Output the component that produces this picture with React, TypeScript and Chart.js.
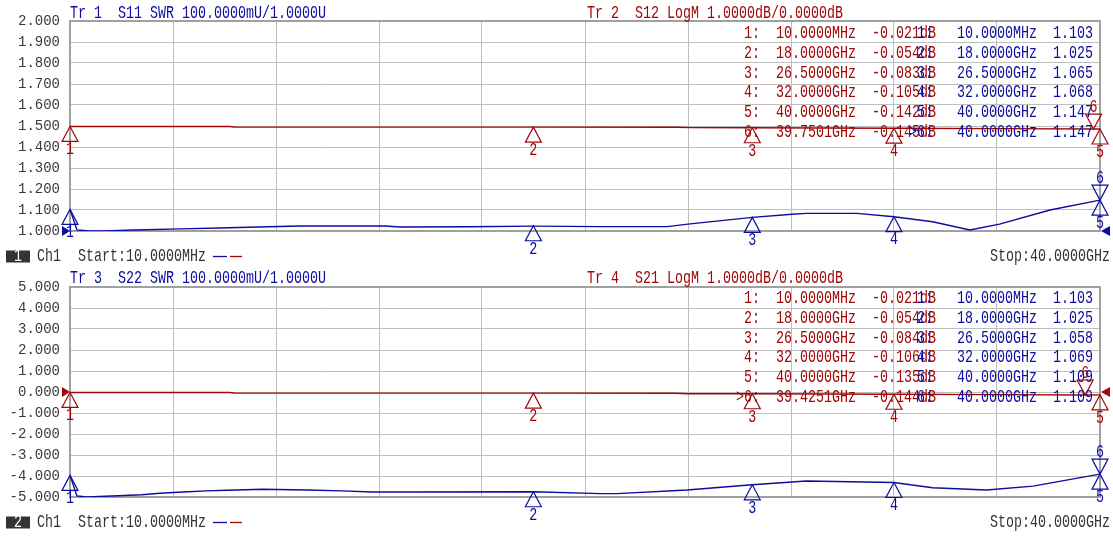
import { useEffect, useRef } from 'react';
import { Chart, registerables } from 'chart.js';

Chart.register(...registerables);

// ---------------- data ----------------
const START_GHZ = 0.01;
const STOP_GHZ = 40;

// Tr 1  S11 SWR
const s11Freq = [0.01, 0.28, 0.79, 1.37, 2.5, 4.28, 5.83, 7.3, 8.94, 10.88, 12.24, 12.82, 15.5, 18.0, 20.6, 23.2, 24.0, 26.5, 28.04, 28.6, 30.56, 32.0, 33.5, 34.95, 36.1, 38.06, 40.0];
const s11Swr = [1.103, 1.005, 1.0, 1.0, 1.005, 1.01, 1.014, 1.019, 1.024, 1.024, 1.024, 1.019, 1.02, 1.023, 1.021, 1.021, 1.033, 1.065, 1.08, 1.084, 1.084, 1.068, 1.044, 1.005, 1.033, 1.1, 1.147];

// Tr 2  S12 LogM (dB)
const s12Freq = [0.01, 6.2, 6.4, 18.0, 23.5, 24.2, 26.5, 32.0, 36.0, 39.7501, 40.0];
const s12Db = [-0.021, -0.025, -0.045, -0.054, -0.06, -0.075, -0.083, -0.105, -0.125, -0.145, -0.142];

// Tr 3  S22 SWR
const s22Freq = [0.01, 0.28, 0.67, 1.64, 2.8, 3.5, 4.4, 5.3, 6.1, 7.5, 9.2, 10.57, 11.73, 12.8, 18.0, 20.6, 21.25, 23.96, 26.5, 28.6, 32.0, 33.5, 35.6, 37.4, 40.0];
const s22Swr = [1.103, 1.005, 1.0, 1.005, 1.011, 1.018, 1.024, 1.029, 1.032, 1.037, 1.033, 1.029, 1.024, 1.024, 1.025, 1.016, 1.016, 1.033, 1.058, 1.076, 1.069, 1.044, 1.033, 1.052, 1.109];

// Tr 4  S21 LogM (dB)
const s21Freq = [0.01, 6.2, 6.4, 18.0, 23.5, 24.0, 26.5, 32.0, 36.0, 39.4251, 40.0];
const s21Db = [-0.021, -0.025, -0.045, -0.054, -0.06, -0.08, -0.084, -0.106, -0.125, -0.144, -0.135];

// markers
const tr1MarkerFreq = [0.01, 18, 26.5, 32, 40, 40];
const tr1MarkerVal = [1.103, 1.025, 1.065, 1.068, 1.147, 1.147];
const tr2MarkerFreq = [0.01, 18, 26.5, 32, 40, 39.7501];
const tr2MarkerVal = [-0.021, -0.054, -0.083, -0.105, -0.142, -0.145];
const tr3MarkerFreq = [0.01, 18, 26.5, 32, 40, 40];
const tr3MarkerVal = [1.103, 1.025, 1.058, 1.069, 1.109, 1.109];
const tr4MarkerFreq = [0.01, 18, 26.5, 32, 40, 39.4251];
const tr4MarkerVal = [-0.021, -0.054, -0.084, -0.106, -0.135, -0.144];

const swrAxis = { min: 1, max: 2, step: 0.1 };
const dbAxis = { min: -5, max: 5, step: 1 };

// ---------------- styles ----------------
const BLUE = '#0c0ca0';
const RED = '#a00808';
const GRID = '#bebebe';
const FRAME = '#a0a0a0';
const TEXT = '#333333';
const CW = 8; // character cell width
const FONT_PX = 18;

function fmtFreq(f: number) {
  return f < 1 ? (f * 1000).toFixed(4) + 'MHz' : f.toFixed(4) + 'GHz';
}

function txt(ctx: CanvasRenderingContext2D, s: string, x: number, y: number, color: string, align: 'left' | 'center' | 'right' = 'left') {
  ctx.save();
  ctx.font = `${FONT_PX}px "Liberation Mono", "DejaVu Sans Mono", monospace`;
  ctx.textBaseline = 'middle';
  ctx.textAlign = 'left';
  ctx.fillStyle = color;
  const raw = ctx.measureText(s).width || 1;
  const sx = (CW * s.length) / raw;
  const w = CW * s.length;
  const x0 = align === 'left' ? x : align === 'center' ? x - w / 2 : x - w;
  ctx.translate(x0, y);
  ctx.scale(sx, 1);
  ctx.fillText(s, 0, 0);
  ctx.restore();
}

function tri(ctx: CanvasRenderingContext2D, x: number, y: number, color: string, down: boolean, label: string) {
  ctx.save();
  ctx.strokeStyle = color;
  ctx.lineWidth = 1.2;
  ctx.beginPath();
  const d = down ? -15 : 15;
  ctx.moveTo(x, y);
  ctx.lineTo(x - 8, y + d);
  ctx.lineTo(x + 8, y + d);
  ctx.closePath();
  ctx.stroke();
  ctx.restore();
  txt(ctx, label, x, down ? y - 22 : y + 23, color, 'center');
}

type Panel = {
  height: number;
  top: number;
  chartTop: number;
  chartBottom: number;
  chNum: string;
  titleBlue: string;
  titleRed: string;
  blueIsPrimary: boolean;
  blueF: number[]; blueV: number[];
  redF: number[]; redV: number[];
  blueMF: number[]; blueMV: number[];
  redMF: number[]; redMV: number[];
  activeBlue: boolean;
  footY: number;
};

const panels: Panel[] = [
  {
    height: 265, top: 0, chartTop: 21, chartBottom: 231, chNum: '1',
    titleBlue: 'Tr 1  S11 SWR 100.0000mU/1.0000U',
    titleRed: 'Tr 2  S12 LogM 1.0000dB/0.0000dB',
    blueIsPrimary: true,
    blueF: s11Freq, blueV: s11Swr, redF: s12Freq, redV: s12Db,
    blueMF: tr1MarkerFreq, blueMV: tr1MarkerVal, redMF: tr2MarkerFreq, redMV: tr2MarkerVal,
    activeBlue: true, footY: 256.5,
  },
  {
    height: 275, top: 265, chartTop: 22, chartBottom: 232, chNum: '2',
    titleBlue: 'Tr 3  S22 SWR 100.0000mU/1.0000U',
    titleRed: 'Tr 4  S21 LogM 1.0000dB/0.0000dB',
    blueIsPrimary: false,
    blueF: s22Freq, blueV: s22Swr, redF: s21Freq, redV: s21Db,
    blueMF: tr3MarkerFreq, blueMV: tr3MarkerVal, redMF: tr4MarkerFreq, redMV: tr4MarkerVal,
    activeBlue: false, footY: 257.5,
  },
];

function makeChart(canvas: HTMLCanvasElement, p: Panel) {
  const blueAxis = p.blueIsPrimary ? 'y' : 'y2';
  const redAxis = p.blueIsPrimary ? 'y2' : 'y';
  const prim = p.blueIsPrimary ? swrAxis : dbAxis;
  const sec = p.blueIsPrimary ? dbAxis : swrAxis;

  const overlay = {
    id: 'vnaOverlay',
    beforeDatasetsDraw(chart: any) {
      const { ctx, chartArea: a } = chart;
      ctx.save();
      ctx.strokeStyle = FRAME;
      ctx.lineWidth = 2;
      ctx.strokeRect(a.left, a.top, a.right - a.left, a.bottom - a.top);
      ctx.restore();
    },
    afterDraw(chart: any) {
      const ctx: CanvasRenderingContext2D = chart.ctx;
      const a = chart.chartArea;
      const xs = chart.scales.x;
      const yb = chart.scales[blueAxis];
      const yr = chart.scales[redAxis];

      // titles
      txt(ctx, p.titleBlue, 70, 13.5, BLUE);
      txt(ctx, p.titleRed, 587, 13.5, RED);

      // reference-level indicators
      const refColor = p.blueIsPrimary ? BLUE : RED;
      const refY = p.blueIsPrimary ? yb.getPixelForValue(swrAxis.min) : yr.getPixelForValue(0);
      ctx.save();
      ctx.fillStyle = refColor;
      ctx.beginPath();
      ctx.moveTo(a.left - 8, refY - 5);
      ctx.lineTo(a.left - 8, refY + 5);
      ctx.lineTo(a.left, refY);
      ctx.closePath();
      ctx.fill();
      ctx.beginPath();
      ctx.moveTo(a.right + 10, refY - 5);
      ctx.lineTo(a.right + 10, refY + 5);
      ctx.lineTo(a.right + 1, refY);
      ctx.closePath();
      ctx.fill();
      ctx.restore();

      // marker tables
      const rowY = (i: number) => 33.3 + i * 19.8;
      p.redMF.forEach((f, i) => {
        const lab = (i + 1) + ':';
        const s = lab + '  ' + fmtFreq(f) + '  ' + p.redMV[i].toFixed(3) + 'dB';
        const active = !p.activeBlue && i === 5;
        txt(ctx, active ? '>' + s : s, active ? 736 : 744, rowY(i), RED);
      });
      p.blueMF.forEach((f, i) => {
        const lab = (i + 1) + ':';
        const s = lab + '   ' + fmtFreq(f) + '  ' + p.blueMV[i].toFixed(3);
        const active = p.activeBlue && i === 5;
        txt(ctx, active ? '>' + s : s, active ? 909 : 917, rowY(i), BLUE);
      });

      // markers
      p.redMF.forEach((f, i) => {
        tri(ctx, xs.getPixelForValue(f), yr.getPixelForValue(p.redMV[i]), RED, i === 5, String(i + 1));
      });
      p.blueMF.forEach((f, i) => {
        tri(ctx, xs.getPixelForValue(f), yb.getPixelForValue(p.blueMV[i]), BLUE, i === 5, String(i + 1));
      });

      // footer
      const fy = p.footY;
      ctx.save();
      ctx.fillStyle = '#333333';
      ctx.fillRect(6, fy - 6, 24, 12);
      ctx.restore();
      txt(ctx, p.chNum, 18, fy, '#ffffff', 'center');
      txt(ctx, 'Ch1', 37, fy, TEXT);
      txt(ctx, 'Start:' + fmtFreq(START_GHZ), 78, fy, TEXT);
      ctx.save();
      ctx.lineWidth = 1.3;
      ctx.strokeStyle = BLUE;
      ctx.beginPath(); ctx.moveTo(213, fy); ctx.lineTo(227, fy); ctx.stroke();
      ctx.strokeStyle = RED;
      ctx.beginPath(); ctx.moveTo(230, fy); ctx.lineTo(242, fy); ctx.stroke();
      ctx.restore();
      txt(ctx, 'Stop:' + fmtFreq(STOP_GHZ), 1110, fy, TEXT, 'right');
    },
  };

  return new Chart(canvas, {
    type: 'line',
    data: {
      datasets: [
        {
          label: p.titleRed,
          data: p.redF.map((f, i) => ({ x: f, y: p.redV[i] })),
          yAxisID: redAxis,
          borderColor: RED,
          borderWidth: 1.4,
          pointRadius: 0,
          tension: 0,
        },
        {
          label: p.titleBlue,
          data: p.blueF.map((f, i) => ({ x: f, y: p.blueV[i] })),
          yAxisID: blueAxis,
          borderColor: BLUE,
          borderWidth: 1.4,
          pointRadius: 0,
          tension: 0,
        },
      ],
    },
    options: {
      animation: false,
      responsive: false,
      devicePixelRatio: 1,
      events: [],
      layout: { padding: { left: 0, right: 13, top: p.chartTop, bottom: p.height - p.chartBottom } },
      plugins: { legend: { display: false }, tooltip: { enabled: false }, title: { display: false } },
      scales: {
        x: {
          type: 'linear',
          min: START_GHZ,
          max: STOP_GHZ,
          afterBuildTicks: (s: any) => {
            s.ticks = Array.from({ length: 11 }, (_, i) => ({ value: START_GHZ + (i * (STOP_GHZ - START_GHZ)) / 10 }));
          },
          afterFit: (s: any) => { s.height = 0; },
          ticks: { display: false },
          grid: { color: GRID, lineWidth: 1, drawTicks: false },
          border: { display: false },
        },
        y: {
          type: 'linear',
          position: 'left',
          min: prim.min,
          max: prim.max,
          afterFit: (s: any) => { s.width = 70; },
          ticks: {
            stepSize: prim.step,
            padding: 10,
            color: '#3a3a3a',
            font: { family: '"Liberation Mono", monospace', size: 14 },
            callback: (v: any) => Number(v).toFixed(3),
          },
          grid: { color: GRID, lineWidth: 1, drawTicks: false },
          border: { display: false },
        },
        y2: {
          type: 'linear',
          display: false,
          min: sec.min,
          max: sec.max,
        },
      },
    },
    plugins: [overlay],
  } as any);
}

function VnaPanel({ p }: { p: Panel }) {
  const ref = useRef<HTMLCanvasElement | null>(null);
  useEffect(() => {
    if (!ref.current) return;
    const c = makeChart(ref.current, p);
    return () => c.destroy();
  }, [p]);
  return (
    <canvas
      ref={ref}
      width={1113}
      height={p.height}
      style={{ position: 'absolute', left: 0, top: p.top, width: 1113, height: p.height, display: 'block' }}
    />
  );
}

export default function App() {
  useEffect(() => {
    document.body.style.margin = '0';
    document.body.style.background = '#ffffff';
  }, []);
  return (
    <div style={{ position: 'relative', width: 1113, height: 540, background: '#ffffff', overflow: 'hidden' }}>
      {panels.map((p) => (
        <VnaPanel key={p.chNum} p={p} />
      ))}
    </div>
  );
}
